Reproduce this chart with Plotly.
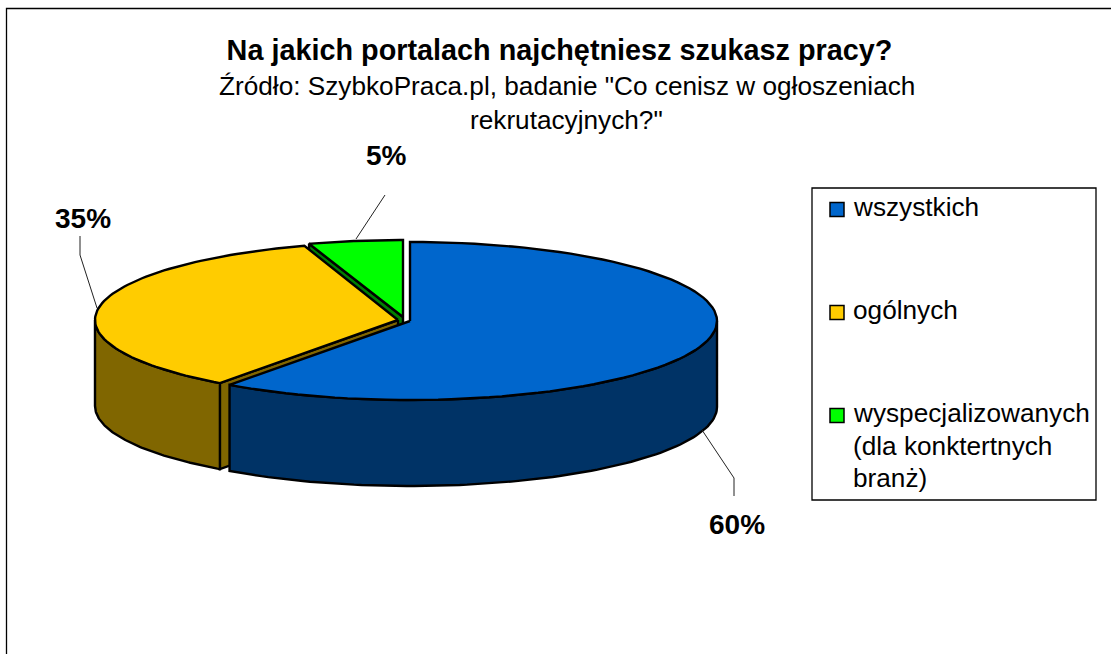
import numpy as np
import plotly.graph_objects as go

TITLE = "Na jakich portalach najchętniesz szukasz pracy?"
SUBTITLE = ['Źródło: SzybkoPraca.pl, badanie "Co cenisz w ogłoszeniach', 'rekrutacyjnych?"']
categories = ["wszystkich", "ogólnych", "wyspecjalizowanych"]
legend_lines = [["wszystkich"], ["ogólnych"], ["wyspecjalizowanych", "(dla konktertnych", "branż)"]]
values = [60, 35, 5]

top_colors = ["#0066CC", "#FFCC00", "#00FF00"]
side_colors = ["#003366", "#806600", "#008000"]
centers = [(410, 321), (398, 320), (403, 317)]
RX = [307, 303, 304]
RY = [79, 78, 77]
DEPTH = 86
W, H = 1111, 654

fig = go.Figure()


def poly(xs, ys, color, lw=2.4):
    fig.add_trace(go.Scatter(x=xs, y=ys, mode="lines", fill="toself", fillcolor=color,
                             line=dict(color="black", width=lw), hoverinfo="skip", showlegend=False))


def line(xs, ys):
    fig.add_trace(go.Scatter(x=xs, y=ys, mode="lines", line=dict(color="#222222", width=1),
                             hoverinfo="skip", showlegend=False))


def rim(i, a0, a1):
    t = np.radians(np.linspace(a0, a1, 90))
    cx, cy = centers[i]
    return cx + RX[i] * np.sin(t), cy - RY[i] * np.cos(t)


total = sum(values)
edges = np.cumsum([0] + values) / total * 360.0


def top(i):
    x, y = rim(i, edges[i], edges[i + 1])
    cx, cy = centers[i]
    poly(np.r_[cx, x, cx], np.r_[cy, y, cy], top_colors[i])


def outer_wall(i, a0, a1):
    x, y = rim(i, a0, a1)
    poly(np.r_[x, x[::-1], x[0]], np.r_[y, (y + DEPTH)[::-1], y[0]], side_colors[i])


def radial_wall(i, a):
    x, y = rim(i, a, a)
    cx, cy = centers[i]
    poly([cx, x[0], x[0], cx, cx], [cy, y[0], y[0] + DEPTH, cy + DEPTH, cy], side_colors[i])


# back to front: green, yellow, blue
radial_wall(2, edges[2])
top(2)
radial_wall(1, edges[1])
outer_wall(1, edges[1], 270)
top(1)
outer_wall(0, 90, edges[1])
top(0)

# leader lines
line([356, 385, 385], [239, 195, 195])
line([97, 80, 80], [308, 255, 236])
line([702, 734, 734], [430, 478, 496])

annotations = []


def text(x, y, s, size, bold=False, anchor="center"):
    annotations.append(dict(x=x, y=y, xref="x", yref="y", text=f"<b>{s}</b>" if bold else s,
                            showarrow=False, xanchor=anchor, yanchor="middle",
                            font=dict(family="Liberation Sans, Arial", size=size, color="black")))


for (x, y), v in zip([(737, 524), (82.5, 218), (386, 155)], values):
    text(x, y, f"{v / total:.0%}", 28, bold=True)

for i, s in enumerate(SUBTITLE):
    text(566.5, 86 + 34 * i, s, 26.2)

# legend
swatch_y = [209.5, 312.5, 415.5]
first_line_y = [207, 310, 413]
for i, cat in enumerate(categories):
    fig.add_trace(go.Scatter(x=[837], y=[swatch_y[i]], mode="markers", name=cat,
                             marker=dict(symbol="square", size=14, color=top_colors[i],
                                         line=dict(color="black", width=1.5)),
                             hoverinfo="skip", showlegend=False))
    for j, s in enumerate(legend_lines[i]):
        text(851, first_line_y[i] + 32.5 * j, s, 26.2, anchor="left")

shapes = [
    dict(type="rect", xref="x", yref="y", x0=812, x1=1096, y0=188, y1=500,
         line=dict(color="black", width=1.3), fillcolor="white", layer="below"),
    dict(type="rect", xref="x", yref="y", x0=6.5, x1=1130, y0=8.5, y1=680,
         line=dict(color="black", width=1.3), fillcolor="white", layer="below"),
]

fig.update_layout(
    width=W, height=H, margin=dict(l=0, r=0, t=0, b=0), autosize=False,
    paper_bgcolor="white", plot_bgcolor="white", showlegend=False,
    title=dict(text=f"<b>{TITLE}</b>", x=559.5 / W, xanchor="center", y=1 - 50 / H, yanchor="middle",
               font=dict(family="Liberation Sans, Arial", size=28.8, color="black")),
    xaxis=dict(range=[0, W], visible=False, fixedrange=True),
    yaxis=dict(range=[H, 0], visible=False, fixedrange=True),
    shapes=shapes[::-1], annotations=annotations,
)
fig.write_html("out.html", config={"displayModeBar": False},
               post_script="document.body.style.margin='0';document.body.style.overflow='hidden';")
